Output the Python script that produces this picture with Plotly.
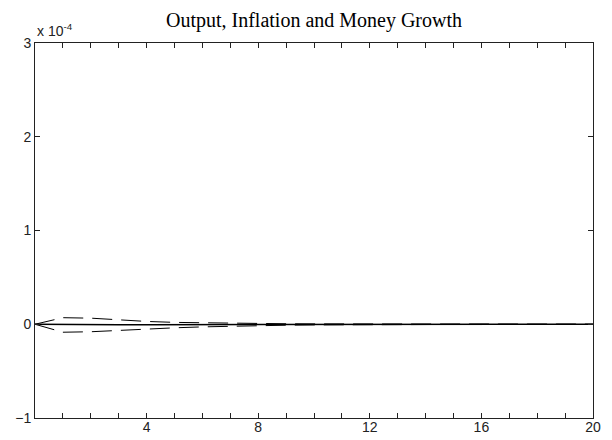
import plotly.graph_objects as go

# horizon (periods) and responses, in units of 1e-4
periodos = list(range(0, 21))
resposta = [0, -0.004, -0.006, -0.006, -0.005, -0.004, -0.003, -0.002, -0.002, -0.001, -0.001,
            -0.001, 0, 0, 0, 0, 0, 0, 0, 0, 0]
banda_sup = [0, 0.07, 0.065, 0.045, 0.03, 0.02, 0.015, 0.01, 0.007, 0.005, 0.004,
             0.003, 0.002, 0.002, 0.001, 0.001, 0.001, 0.001, 0, 0, 0]
banda_inf = [0, -0.085, -0.08, -0.065, -0.05, -0.038, -0.028, -0.02, -0.014, -0.01, -0.007,
             -0.005, -0.004, -0.003, -0.002, -0.002, -0.001, -0.001, -0.001, 0, 0]

x_ticks = list(range(0, 21))
x_labels = ["4", "8", "12", "16", "20"]
y_ticks = [-1, 0, 1, 2, 3]

x_text = [str(v) if str(v) in x_labels else "" for v in x_ticks]

fig = go.Figure()
for serie in (banda_sup, banda_inf):
    fig.add_trace(go.Scatter(
        x=periodos, y=serie, mode="lines",
        line=dict(color="black", width=1, dash="20px,9px"),
        showlegend=False
    ))
fig.add_trace(go.Scatter(
    x=periodos, y=resposta, mode="lines",
    line=dict(color="black", width=1.5),
    showlegend=False
))

eixo = dict(
    showline=True, linecolor="#222", linewidth=1, mirror="ticks",
    ticks="inside", ticklen=5, tickcolor="#222",
    showgrid=False, zeroline=False, automargin=False,
    tickfont=dict(family="Liberation Sans, Arial", size=14, color="#222"),
)

# page body adds an 8px margin, so the figure is a bit smaller than the window
fig.update_layout(
    width=604, height=432, autosize=False,
    paper_bgcolor="white", plot_bgcolor="white",
    margin=dict(l=27, r=19, t=35, b=22),
    title=dict(
        text="Output, Inflation and Money Growth",
        x=0.5, xanchor="center", xref="paper",
        y=0.972, yanchor="middle", yref="container",
        font=dict(family="Liberation Serif, Times New Roman", size=20, color="black")
    ),
    xaxis=dict(eixo, range=[0, 20], tickvals=x_ticks, ticktext=x_text, ticklabelstandoff=-4),
    yaxis=dict(eixo, range=[-1, 3], tickvals=y_ticks),
    annotations=[dict(
        text="x 10<sup>-4</sup>", xref="paper", yref="paper",
        x=0, y=1, xanchor="left", yanchor="bottom", showarrow=False, yshift=2,
        font=dict(family="Liberation Sans, Arial", size=14, color="#222")
    )],
)

fig.write_html("out.html")
